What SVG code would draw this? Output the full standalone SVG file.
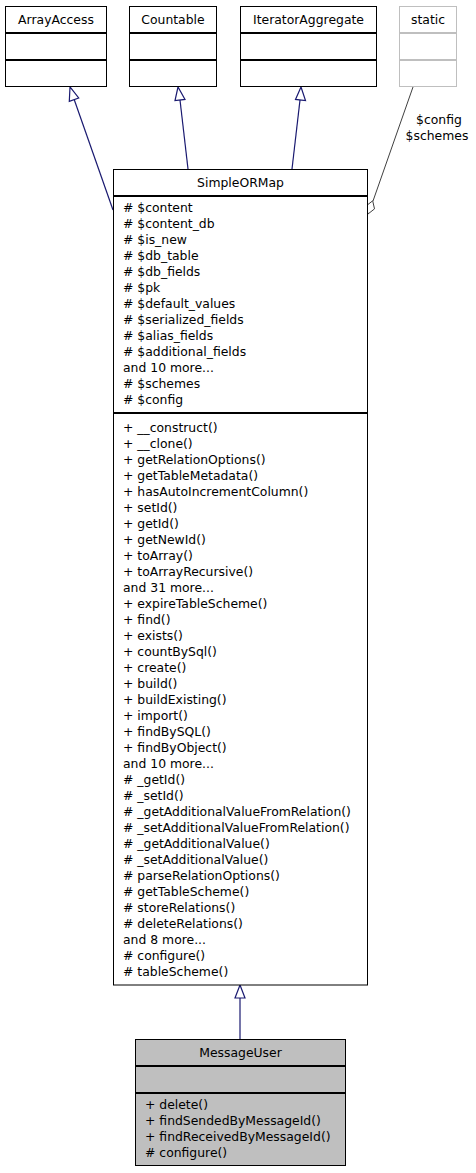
<svg xmlns="http://www.w3.org/2000/svg" width="476" height="1173" viewBox="0 0 476 1173">
<style>
text{font-family:"DejaVu Sans",sans-serif;font-size:12.4px;fill:#000}
.t{text-anchor:middle}
.box{fill:#fff;stroke:#000;stroke-width:1}
.ubox{fill:#fff;stroke:#bfbfbf;stroke-width:1}
.cur{fill:#bfbfbf;stroke:#000;stroke-width:1}
.div{stroke:#000;stroke-width:2}
.udiv{stroke:#bfbfbf;stroke-width:2}
.inh{fill:none;stroke:#191970;stroke-width:1.2}
.inhh{fill:#fff;stroke:#191970;stroke-width:1.2}
.use{fill:none;stroke:#404040;stroke-width:1}
.useh{fill:#fff;stroke:#404040;stroke-width:1}
</style>
<rect width="476" height="1173" fill="#fff"/>
<g id="connectors">
<path class="inh" d="M113,210 L74,99"/>
<polygon class="inhh" points="70,87 69.3,101.3 78.7,98"/>
<path class="inh" d="M188,169 L180,100"/>
<polygon class="inhh" points="178,87 175,100.6 185,99.4"/>
<path class="inh" d="M292,169 L300,100"/>
<polygon class="inhh" points="301,87 295.5,99.4 305.5,100.6"/>
<path class="use" d="M413,87 L373,201"/>
<polygon class="useh" points="368,214 366.1,205.9 372.7,200.8 374.5,208.9"/>
<text class="t" x="439" y="124">$config</text>
<text class="t" x="437" y="140">$schemes</text>
<path class="inh" d="M240,1039 L240,998"/>
<polygon class="inhh" points="240,985 235,998 245,998"/>
</g>
<g id="ArrayAccess">
<rect class="box" x="5.5" y="6.5" width="101" height="80"/>
<line class="div" x1="5.5" y1="33" x2="106.5" y2="33"/>
<line class="div" x1="5.5" y1="60" x2="106.5" y2="60"/>
<text class="t" x="56" y="24">ArrayAccess</text>
</g>
<g id="Countable">
<rect class="box" x="129.5" y="6.5" width="87" height="80"/>
<line class="div" x1="129.5" y1="33" x2="216.5" y2="33"/>
<line class="div" x1="129.5" y1="60" x2="216.5" y2="60"/>
<text class="t" x="173" y="24">Countable</text>
</g>
<g id="IteratorAggregate">
<rect class="box" x="240.5" y="6.5" width="136" height="80"/>
<line class="div" x1="240.5" y1="33" x2="376.5" y2="33"/>
<line class="div" x1="240.5" y1="60" x2="376.5" y2="60"/>
<text class="t" x="308.5" y="24">IteratorAggregate</text>
</g>
<g id="static">
<rect class="ubox" x="399.5" y="6.5" width="57" height="80"/>
<line class="udiv" x1="399.5" y1="33" x2="456.5" y2="33"/>
<line class="udiv" x1="399.5" y1="60" x2="456.5" y2="60"/>
<text class="t" x="428" y="24">static</text>
</g>
<g id="SimpleORMap">
<rect class="box" x="113.5" y="169.5" width="254" height="815.5"/>
<line class="div" x1="113.5" y1="196" x2="367.5" y2="196"/>
<line class="div" x1="113.5" y1="413" x2="367.5" y2="413"/>
<text class="t" x="240.5" y="187">SimpleORMap</text>
<text x="123" y="212"># $content</text>
<text x="123" y="228"># $content_db</text>
<text x="123" y="244"># $is_new</text>
<text x="123" y="260"># $db_table</text>
<text x="123" y="276"># $db_fields</text>
<text x="123" y="292"># $pk</text>
<text x="123" y="308"># $default_values</text>
<text x="123" y="324"># $serialized_fields</text>
<text x="123" y="340"># $alias_fields</text>
<text x="123" y="356"># $additional_fields</text>
<text x="123" y="372">and 10 more...</text>
<text x="123" y="388"># $schemes</text>
<text x="123" y="404"># $config</text>
<text x="123" y="432">+ __construct()</text>
<text x="123" y="448">+ __clone()</text>
<text x="123" y="464">+ getRelationOptions()</text>
<text x="123" y="480">+ getTableMetadata()</text>
<text x="123" y="496">+ hasAutoIncrementColumn()</text>
<text x="123" y="512">+ setId()</text>
<text x="123" y="528">+ getId()</text>
<text x="123" y="544">+ getNewId()</text>
<text x="123" y="560">+ toArray()</text>
<text x="123" y="576">+ toArrayRecursive()</text>
<text x="123" y="592">and 31 more...</text>
<text x="123" y="608">+ expireTableScheme()</text>
<text x="123" y="624">+ find()</text>
<text x="123" y="640">+ exists()</text>
<text x="123" y="656">+ countBySql()</text>
<text x="123" y="672">+ create()</text>
<text x="123" y="688">+ build()</text>
<text x="123" y="704">+ buildExisting()</text>
<text x="123" y="720">+ import()</text>
<text x="123" y="736">+ findBySQL()</text>
<text x="123" y="752">+ findByObject()</text>
<text x="123" y="768">and 10 more...</text>
<text x="123" y="784"># _getId()</text>
<text x="123" y="800"># _setId()</text>
<text x="123" y="816"># _getAdditionalValueFromRelation()</text>
<text x="123" y="832"># _setAdditionalValueFromRelation()</text>
<text x="123" y="848"># _getAdditionalValue()</text>
<text x="123" y="864"># _setAdditionalValue()</text>
<text x="123" y="880"># parseRelationOptions()</text>
<text x="123" y="896"># getTableScheme()</text>
<text x="123" y="912"># storeRelations()</text>
<text x="123" y="928"># deleteRelations()</text>
<text x="123" y="944">and 8 more...</text>
<text x="123" y="960"># configure()</text>
<text x="123" y="976"># tableScheme()</text>
</g>
<g id="MessageUser">
<rect class="cur" x="135.5" y="1039.5" width="210" height="126"/>
<line class="div" x1="135.5" y1="1066" x2="345.5" y2="1066"/>
<line class="div" x1="135.5" y1="1093" x2="345.5" y2="1093"/>
<text class="t" x="240.5" y="1057">MessageUser</text>
<text x="145" y="1109">+ delete()</text>
<text x="145" y="1125">+ findSendedByMessageId()</text>
<text x="145" y="1141">+ findReceivedByMessageId()</text>
<text x="145" y="1157"># configure()</text>
</g>
</svg>
